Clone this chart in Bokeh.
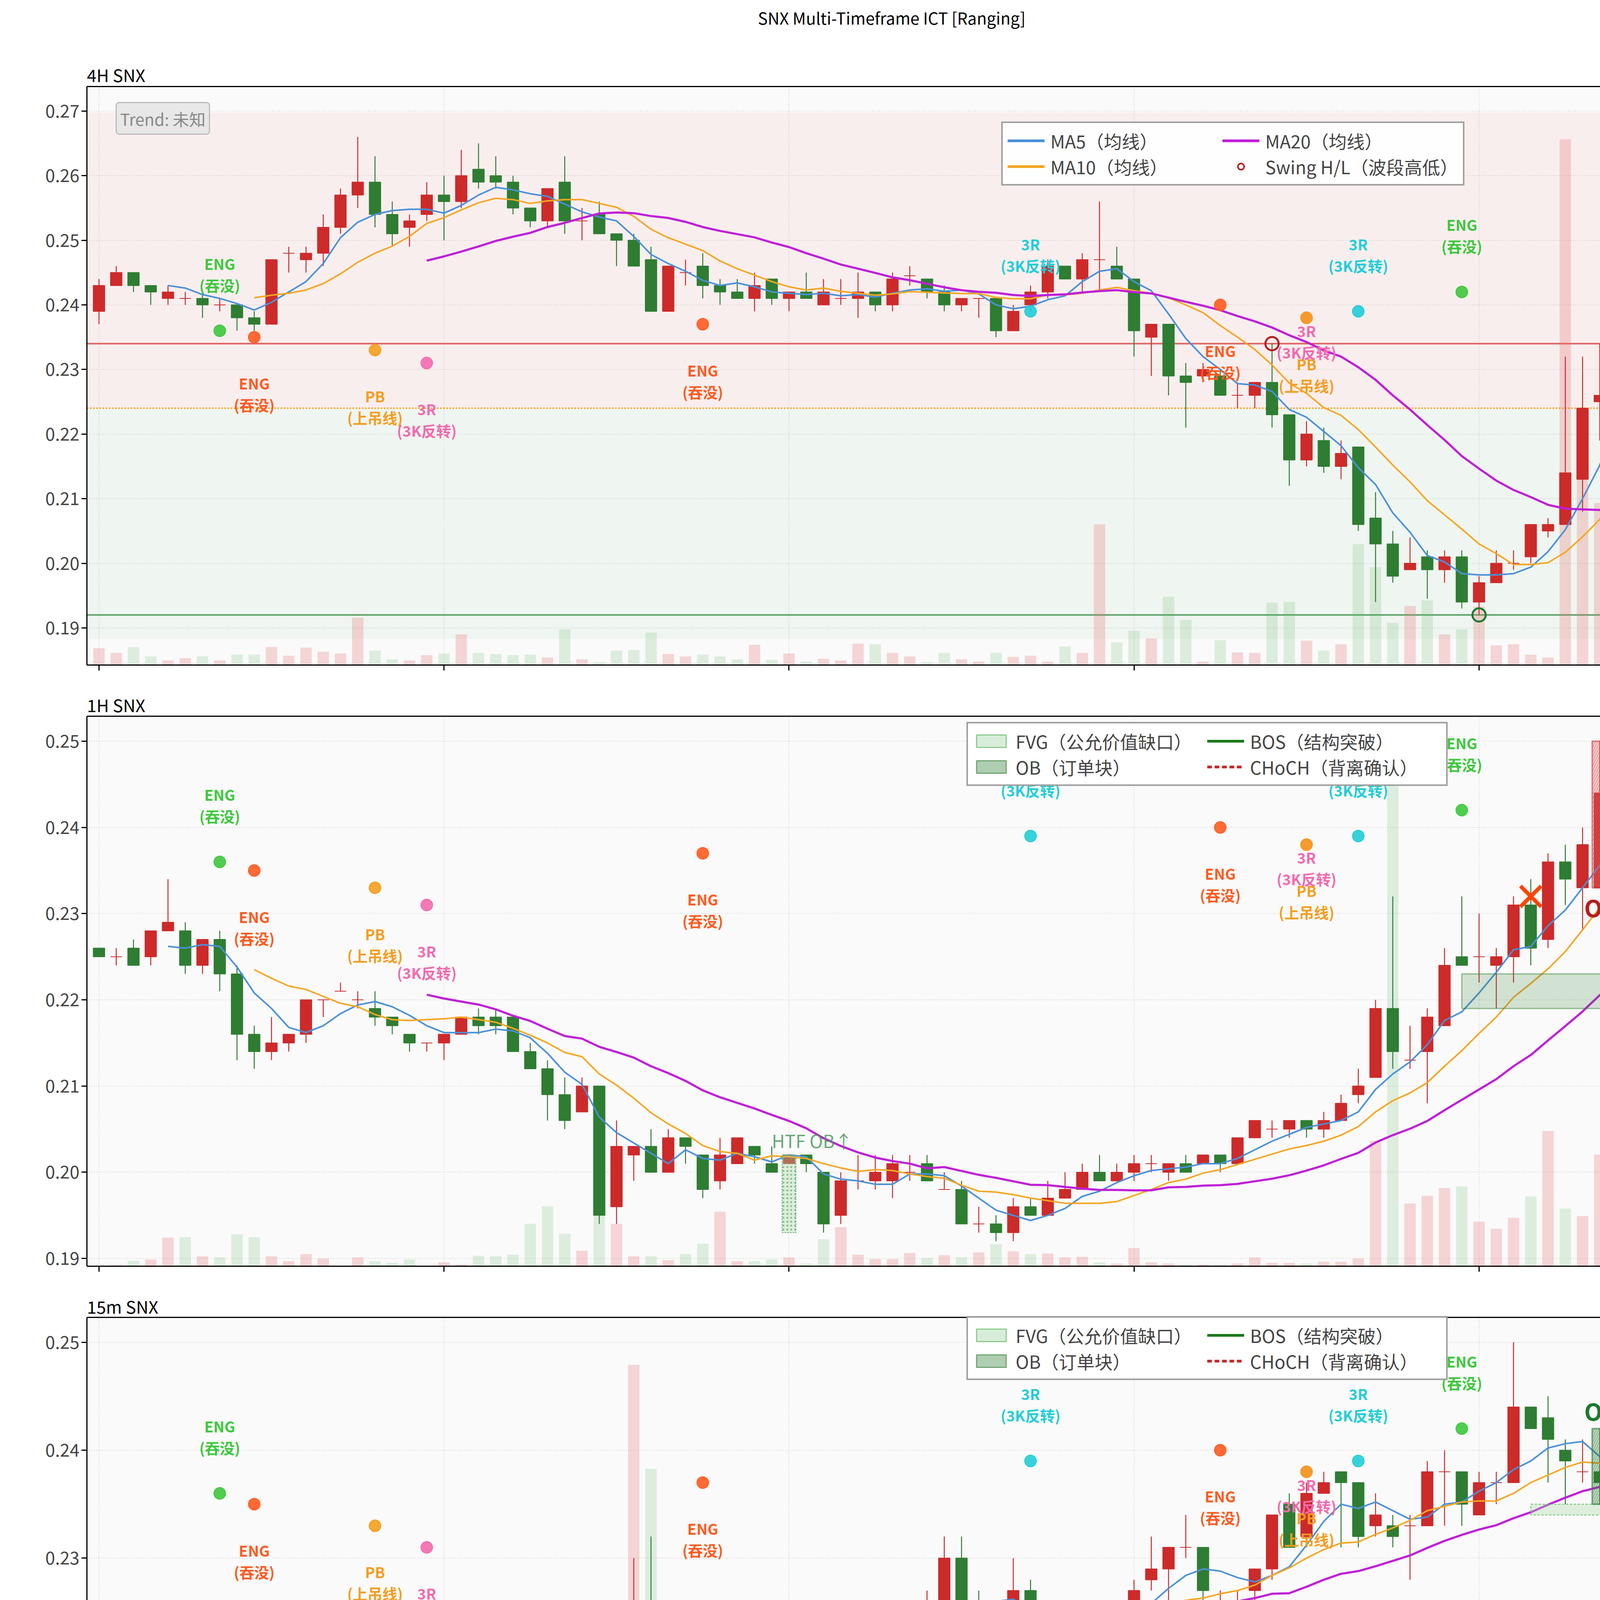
import math
import numpy as np
import pandas as pd
from bokeh.plotting import figure
from bokeh.models import (ColumnDataSource, Range1d, FixedTicker, PrintfTickFormatter,
                          Legend, LegendItem, Label, BoxAnnotation, Span, LinearAxis)
from bokeh.layouts import column
from bokeh.embed import file_html
from bokeh.resources import INLINE
from bokeh.core.properties import value

FONT = "Noto Sans CJK SC"
UP = "#cd2a2a"
DN = "#2e7d32"

# ---------------- DATA ----------------
suptitle_text = "SNX Multi-Timeframe ICT  [Ranging]"
panel_names = ["4H SNX", "1H SNX", "15m SNX", "3m SNX"]
watermark_text = "◈ @凌晨三点还在盯盘"
x_tick_pos = [0, 11, 22, 33, 44, 55, 66, 77, 88]
x_tick_labels = ["06-27 21:03", "06-27 21:36", "06-27 22:09", "06-27 22:42", "06-27 23:15",
                 "06-27 23:48", "06-28 00:21", "06-28 00:54", "06-28 01:27"]

# 4H
h4_open = [.2390,.2430,.2450,.2430,.2410,.2410,.2410,.2400,.2400,.2380,
           .2370,.2480,.2470,.2480,.2520,.2570,.2590,.2540,.2520,.2540,
           .2570,.2560,.2610,.2600,.2590,.2550,.2530,.2590,.2530,.2540,
           .2510,.2500,.2470,.2390,.2450,.2460,.2430,.2420,.2410,.2440,
           .2410,.2420,.2400,.2410,.2410,.2420,.2400,.2445,.2440,.2420,
           .2400,.2410,.2410,.2360,.2400,.2420,.2460,.2440,.2470,.2460,
           .2440,.2350,.2370,.2290,.2290,.2290,.2260,.2260,.2280,.2230,
           .2160,.2190,.2150,.2180,.2070,.2030,.1990,.2010,.1990,.2010,
           .1940,.1970,.2000,.2010,.2050,.2060,.2130,.2250,.2270,.2440]
h4_high = [.2440,.2460,.2450,.2430,.2430,.2420,.2420,.2410,.2400,.2390,
           .2470,.2490,.2490,.2540,.2580,.2660,.2630,.2560,.2540,.2590,
           .2600,.2640,.2650,.2630,.2600,.2550,.2580,.2630,.2550,.2560,
           .2510,.2510,.2490,.2460,.2470,.2480,.2440,.2440,.2450,.2440,
           .2420,.2450,.2440,.2440,.2450,.2420,.2450,.2460,.2440,.2430,
           .2410,.2410,.2410,.2400,.2430,.2470,.2460,.2480,.2560,.2490,
           .2440,.2370,.2370,.2310,.2310,.2300,.2280,.2280,.2340,.2230,
           .2220,.2210,.2190,.2180,.2110,.2050,.2040,.2020,.2020,.2020,
           .1980,.2020,.2020,.2060,.2070,.2320,.2320,.2340,.2500,.2500]
h4_low = [.2370,.2430,.2420,.2400,.2400,.2400,.2380,.2390,.2360,.2360,
          .2370,.2450,.2450,.2460,.2510,.2550,.2520,.2490,.2490,.2530,
          .2500,.2550,.2580,.2580,.2540,.2520,.2520,.2510,.2500,.2510,
          .2460,.2460,.2390,.2390,.2430,.2410,.2400,.2410,.2390,.2400,
          .2390,.2410,.2400,.2400,.2380,.2390,.2390,.2430,.2410,.2390,
          .2390,.2380,.2350,.2360,.2390,.2410,.2440,.2420,.2420,.2440,
          .2320,.2290,.2260,.2210,.2280,.2260,.2240,.2240,.2210,.2120,
          .2150,.2140,.2130,.2050,.1940,.1970,.1990,.1945,.1970,.1930,
          .1920,.1970,.1990,.2000,.2040,.2060,.2080,.2190,.2260,.2350]
h4_close = [.2430,.2450,.2430,.2420,.2420,.2410,.2400,.2400,.2380,.2370,
            .2470,.2480,.2480,.2520,.2570,.2590,.2540,.2510,.2530,.2570,
            .2560,.2600,.2590,.2590,.2550,.2530,.2580,.2530,.2530,.2510,
            .2500,.2460,.2390,.2460,.2450,.2430,.2420,.2410,.2430,.2410,
            .2420,.2410,.2420,.2410,.2420,.2400,.2440,.2445,.2420,.2400,
            .2410,.2410,.2360,.2390,.2420,.2460,.2440,.2470,.2470,.2440,
            .2360,.2370,.2290,.2280,.2300,.2260,.2260,.2280,.2230,.2160,
            .2200,.2150,.2170,.2060,.2030,.1980,.2000,.1990,.2010,.1940,
            .1970,.2000,.2000,.2060,.2060,.2140,.2240,.2260,.2440,.2490]
h4_vol = [2.9,2.1,3.1,1.5,0.8,1.2,1.5,0.8,1.8,1.8,
          3.1,1.6,3.0,2.3,2.0,8.2,2.5,1.0,0.8,1.7,
          2.0,5.3,2.1,1.9,1.7,1.8,1.3,6.2,1.0,0.5,
          2.5,2.6,5.6,1.9,1.5,1.8,1.5,1.0,3.5,0.9,
          2.0,0.6,1.1,0.8,3.7,3.6,2.1,1.5,0.5,2.1,
          1.0,0.6,2.1,1.4,1.6,0.6,3.2,2.1,24.3,3.9,
          5.9,4.6,11.8,7.8,0.6,4.3,2.2,2.1,10.8,10.9,
          4.2,2.5,3.6,20.9,16.9,7.3,10.2,11.2,5.3,6.2,
          10.1,3.4,3.6,1.8,1.3,90.9,35.0,28.0,22.0,17.4]

# 1H
h1_open = [.2260,.2250,.2260,.2250,.2280,.2280,.2240,.2270,.2230,.2160,
           .2140,.2150,.2160,.2200,.2210,.2200,.2190,.2180,.2160,.2150,
           .2150,.2160,.2180,.2180,.2180,.2140,.2120,.2090,.2070,.2100,
           .1960,.2020,.2030,.2000,.2040,.2020,.1990,.2010,.2030,.2010,
           .2010,.2020,.2000,.1950,.1990,.1990,.1990,.2000,.2010,.1980,
           .1980,.1940,.1940,.1930,.1960,.1950,.1970,.1980,.2000,.1990,
           .2000,.2010,.2000,.2010,.2010,.2020,.2010,.2040,.2050,.2050,
           .2060,.2050,.2060,.2090,.2110,.2190,.2130,.2140,.2170,.2250,
           .2250,.2240,.2250,.2310,.2270,.2360,.2330,.2330,.2440,.2380]
h1_high = [.2260,.2260,.2270,.2280,.2340,.2290,.2270,.2280,.2240,.2170,
           .2180,.2160,.2200,.2200,.2220,.2210,.2210,.2180,.2160,.2150,
           .2160,.2180,.2190,.2190,.2180,.2150,.2130,.2110,.2110,.2100,
           .2060,.2030,.2050,.2050,.2040,.2020,.2040,.2040,.2030,.2030,
           .2020,.2020,.2000,.2000,.2020,.2020,.2020,.2020,.2020,.2000,
           .1990,.1960,.1950,.1970,.1970,.1990,.2000,.2010,.2020,.2010,
           .2020,.2020,.2010,.2020,.2020,.2020,.2040,.2060,.2060,.2060,
           .2060,.2070,.2090,.2120,.2200,.2320,.2170,.2190,.2260,.2320,
           .2300,.2260,.2320,.2340,.2370,.2380,.2400,.2500,.2450,.2500]
h1_low = [.2250,.2240,.2240,.2240,.2280,.2230,.2230,.2210,.2130,.2120,
          .2130,.2140,.2150,.2180,.2210,.2190,.2170,.2160,.2140,.2140,
          .2130,.2160,.2160,.2160,.2140,.2120,.2060,.2050,.2070,.1940,
          .1940,.1990,.2000,.2000,.2010,.1970,.1980,.2010,.2010,.2000,
          .2010,.2000,.1930,.1940,.1980,.1980,.1970,.1990,.1990,.1980,
          .1940,.1930,.1920,.1920,.1950,.1950,.1970,.1980,.1990,.1990,
          .1990,.2000,.1990,.2000,.2010,.2000,.2010,.2040,.2040,.2040,
          .2040,.2040,.2060,.2080,.2110,.2120,.2120,.2080,.2170,.2240,
          .2220,.2190,.2220,.2240,.2260,.2310,.2280,.2330,.2350,.2350]
h1_close = [.2250,.2250,.2240,.2280,.2290,.2240,.2270,.2230,.2160,.2140,
            .2150,.2160,.2200,.2200,.2210,.2200,.2180,.2170,.2150,.2150,
            .2160,.2180,.2170,.2170,.2140,.2120,.2090,.2060,.2100,.1950,
            .2030,.2030,.2000,.2040,.2030,.1980,.2020,.2040,.2020,.2000,
            .2020,.2010,.1940,.1990,.1990,.2000,.2010,.2000,.1990,.1980,
            .1940,.1940,.1930,.1960,.1950,.1970,.1980,.2000,.1990,.2000,
            .2010,.2010,.2010,.2000,.2020,.2010,.2040,.2060,.2050,.2060,
            .2050,.2060,.2080,.2100,.2190,.2140,.2130,.2180,.2240,.2240,
            .2250,.2250,.2310,.2260,.2360,.2340,.2380,.2440,.2380,.2490]
h1_vol = [0.1,0.2,1.0,1.2,5.2,5.3,1.8,1.6,5.8,5.3,
          1.8,0.9,2.2,1.4,0.1,1.6,0.9,0.6,1.2,0.1,
          0.7,0.3,1.9,1.8,2.1,7.7,10.9,5.9,2.8,9.1,
          7.7,1.8,1.8,1.1,2.2,4.1,9.9,0.9,0.9,1.2,
          1.6,0.5,4.9,7.1,2.1,1.3,1.3,2.4,1.5,2.0,
          1.6,2.5,4.0,2.7,2.2,2.3,1.6,1.7,0.7,0.5,
          3.3,0.7,0.5,0.3,0.3,0.3,0.5,1.6,0.6,0.6,
          0.5,0.8,0.8,1.4,22.8,89.9,11.4,12.8,14.2,14.5,
          8.1,6.8,8.8,12.7,24.6,10.5,9.1,20.3,13.6,8.4]

# 15m
m15_open = [.2030,.2050,.2050,.2050,.2060,.2050,.2050,.2040,.2050,.2040,
            .2035,.2060,.2035,.2050,.2060,.2050,.2035,.2060,.2060,.2060,
            .2070,.2070,.2080,.2090,.2090,.2110,.2100,.2110,.2130,.2140,
            .2160,.2190,.2260,.2220,.2170,.2130,.2160,.2140,.2140,.2140,
            .2100,.2100,.2130,.2170,.2200,.2240,.2220,.2250,.2240,.2260,
            .2300,.2250,.2240,.2250,.2270,.2240,.2230,.2230,.2240,.2250,
            .2240,.2280,.2290,.2310,.2310,.2260,.2250,.2270,.2290,.2350,
            .2320,.2360,.2380,.2370,.2330,.2330,.2330,.2330,.2380,.2380,
            .2340,.2370,.2370,.2440,.2430,.2400,.2380,.2380,.2370,.2460]
m15_high = [.2060,.2060,.2060,.2060,.2060,.2050,.2050,.2040,.2050,.2040,
            .2060,.2060,.2060,.2060,.2060,.2050,.2060,.2070,.2060,.2070,
            .2070,.2080,.2090,.2100,.2110,.2120,.2110,.2130,.2140,.2170,
            .2200,.2300,.2320,.2240,.2200,.2170,.2160,.2160,.2140,.2140,
            .2100,.2140,.2190,.2220,.2250,.2260,.2250,.2260,.2270,.2320,
            .2320,.2270,.2260,.2300,.2280,.2260,.2250,.2250,.2250,.2250,
            .2280,.2320,.2310,.2340,.2310,.2270,.2270,.2290,.2340,.2360,
            .2370,.2380,.2380,.2370,.2360,.2340,.2340,.2390,.2400,.2380,
            .2380,.2380,.2500,.2440,.2450,.2410,.2410,.2420,.2470,.2500]
m15_low = [.2025,.2050,.2050,.2050,.2050,.2050,.2040,.2030,.2035,.2030,
           .2035,.2030,.2035,.2050,.2045,.2035,.2035,.2060,.2060,.2060,
           .2060,.2070,.2080,.2080,.2090,.2100,.2100,.2110,.2120,.2120,
           .2160,.2170,.2200,.2140,.2120,.2120,.2120,.2130,.2120,.2090,
           .2080,.2080,.2130,.2170,.2180,.2220,.2200,.2230,.2230,.2240,
           .2240,.2230,.2220,.2240,.2230,.2190,.2220,.2220,.2230,.2220,
           .2240,.2270,.2260,.2300,.2240,.2240,.2240,.2260,.2280,.2310,
           .2310,.2360,.2310,.2310,.2320,.2310,.2280,.2330,.2330,.2330,
           .2340,.2350,.2370,.2420,.2370,.2350,.2370,.2350,.2360,.2460]
m15_close = [.2060,.2060,.2060,.2050,.2050,.2050,.2050,.2035,.2040,.2035,
             .2060,.2035,.2060,.2060,.2050,.2040,.2060,.2060,.2060,.2060,
             .2060,.2080,.2080,.2090,.2110,.2100,.2100,.2120,.2140,.2160,
             .2190,.2260,.2230,.2170,.2140,.2170,.2140,.2140,.2130,.2100,
             .2090,.2120,.2180,.2210,.2240,.2230,.2240,.2230,.2260,.2300,
             .2240,.2240,.2260,.2270,.2250,.2220,.2230,.2240,.2250,.2240,
             .2270,.2290,.2310,.2310,.2270,.2260,.2260,.2290,.2340,.2310,
             .2360,.2370,.2370,.2320,.2340,.2320,.2330,.2380,.2380,.2350,
             .2370,.2370,.2440,.2420,.2410,.2390,.2380,.2370,.2460,.2490]
m15_vol = [0.4,0.3,0.9,0.3,0.2,0.2,0.2,0.2,0.2,0.3,
           0.5,0.3,0.8,0.4,0.4,0.4,0.3,1.3,0.3,0.3,
           0.4,0.8,0.5,0.7,1.0,1.0,0.8,1.0,1.3,13.6,
           33.8,90.9,71.0,26.0,14.2,15.1,6.5,0.8,3.1,10.2,
           5.5,8.5,4.2,9.9,4.2,11.7,5.7,2.9,3.1,14.9,
           11.4,3.9,3.1,8.0,2.9,8.8,2.0,2.2,2.0,2.0,
           4.6,8.7,4.4,7.4,10.4,6.3,4.3,2.2,28.7,15.5,
           8.4,4.6,3.7,3.7,11.3,2.9,7.0,4.9,5.5,4.8,
           3.8,5.9,30.7,11.2,9.4,7.2,2.6,3.3,10.6,5.0]

# 3m
m3_open = [.235,.236,.235,.237,.238,.236,.236,.234,.236,.237,
           .235,.232,.232,.232,.233,.235,.234,.233,.234,.233,
           .231,.231,.233,.233,.232,.233,.229,.231,.232,.233,
           .235,.236,.237,.237,.238,.239,.237,.236,.237,.238,
           .237,.236,.237,.237,.234,.236,.235,.236,.236,.237,
           .236,.236,.238,.237,.237,.239,.245,.246,.245,.244,
           .240,.241,.241,.241,.243,.244,.240,.238,.240,.241,
           .239,.238,.237,.237,.238,.238,.238,.240,.240,.238,
           .242,.240,.238,.238,.237,.238,.239,.240,.242,.246]
m3_high = [.235,.236,.237,.238,.238,.237,.237,.236,.237,.237,
           .235,.232,.232,.232,.235,.235,.236,.235,.235,.235,
           .232,.232,.234,.233,.234,.234,.231,.231,.233,.235,
           .235,.239,.237,.239,.239,.240,.238,.237,.239,.238,
           .237,.237,.237,.237,.235,.236,.236,.237,.238,.237,
           .237,.237,.238,.237,.240,.246,.250,.246,.246,.244,
           .242,.242,.242,.243,.245,.245,.241,.240,.242,.241,
           .240,.240,.237,.239,.239,.239,.240,.241,.240,.242,
           .242,.240,.239,.238,.238,.238,.240,.242,.247,.250]
m3_low = [.234,.234,.234,.236,.2355,.235,.234,.234,.236,.235,
          .232,.231,.231,.231,.232,.232,.232,.233,.233,.231,
          .231,.231,.233,.232,.230,.228,.229,.231,.232,.233,
          .235,.235,.236,.237,.238,.236,.235,.236,.237,.237,
          .236,.236,.236,.233,.234,.234,.235,.236,.235,.235,
          .235,.236,.237,.237,.237,.239,.243,.243,.243,.239,
          .239,.240,.240,.240,.242,.240,.238,.238,.240,.240,
          .236,.237,.236,.236,.238,.238,.238,.238,.238,.238,
          .240,.238,.237,.235,.237,.236,.239,.240,.240,.245]
m3_close = [.235,.234,.237,.237,.236,.236,.235,.236,.237,.235,
            .232,.232,.232,.232,.235,.233,.233,.234,.234,.231,
            .232,.232,.234,.232,.233,.229,.231,.231,.233,.235,
            .235,.238,.237,.238,.239,.237,.236,.237,.238,.237,
            .236,.237,.236,.235,.235,.235,.236,.237,.237,.236,
            .236,.237,.237,.237,.239,.245,.247,.245,.244,.239,
            .242,.241,.241,.241,.244,.240,.238,.240,.241,.241,
            .238,.237,.237,.239,.239,.239,.240,.238,.238,.242,
            .240,.238,.237,.237,.238,.237,.239,.242,.246,.248]
m3_vol = [3.5,4.4,17.3,7.2,10.1,4.4,8.1,3.0,2.5,4.5,
          7.8,2.6,8.5,5.8,11.8,3.0,65.8,0.3,0.3,1.0,
          0.5,1.3,6.7,3.0,9.8,5.1,1.9,9.7,11.8,2.2,
          2.3,15.7,8.2,0.2,9.7,10.8,19.3,0.5,2.9,3.8,
          4.9,1.7,6.0,20.0,16.9,2.6,5.3,0.7,4.1,25.1,
          5.2,4.6,7.7,3.5,4.0,89.0,91.0,32.5,21.6,44.5,
          13.2,8.1,4.6,16.1,21.4,15.8,18.7,14.3,2.5,17.1,
          16.3,4.1,9.6,8.5,0.8,4.9,6.1,3.1,6.0,6.7,
          7.1,4.8,3.8,2.7,4.5,9.3,4.2,5.6,58.3,38.3]

# pattern signals (shared by all panels)
sig_x = [7, 9, 16, 19, 35, 54, 65, 70, 70, 73, 79]
sig_y = [0.236, 0.235, 0.233, 0.231, 0.237, 0.239, 0.240, 0.238, 0.238, 0.239, 0.242]
sig_kind = ["ENG+", "ENG-", "PB", "3R-", "ENG-", "3R+", "ENG-", "3R-", "PB", "3R+", "ENG+"]
sig_text = {"ENG+": "ENG\n(吞没)", "ENG-": "ENG\n(吞没)", "PB": "PB\n(上吊线)",
            "3R-": "3R\n(3K反转)", "3R+": "3R\n(3K反转)"}

# 4H structure
range_high, eq_level, range_low = 0.2698, 0.224, 0.1883
swing_high, swing_low = 0.234, 0.192
swing_x = [68, 80]
swing_y = [0.234, 0.192]
trend_text = "Trend: 未知"

# 1H structure
h1_htf_ob = dict(left=39.6, right=40.4, bottom=0.193, top=0.202)
h1_bull_ob = dict(left=79.0, right=89.65, bottom=0.219, top=0.223)
h1_fvg = dict(left=88.0, right=89.4, bottom=0.234, top=0.2349)
h1_bear_ob = dict(left=86.56, right=87.44, bottom=0.233, top=0.250)
h1_choch_x, h1_choch_y = 83, 0.232

# 15m structure
m15_bull_ob = dict(left=86.56, right=87.44, bottom=0.235, top=0.242)
m15_small = dict(left=88.9, right=89.4, bottom=0.242, top=0.245)
m15_fvg = dict(left=83.0, right=89.4, bottom=0.234, top=0.235)

# 3m structure
eqh_level, eql_level = 0.242, 0.239
entry_x, entry_y = 80, 0.242
disp_x, disp_y = 79, 0.2418
m3_fvg = dict(left=59.0, right=89.65, bottom=0.234, top=0.235)

# ---------------- LAYOUT ----------------
W = 4233
XL, XR = -0.7, 89.65
SIG_COL = {"ENG+": "#3cc83c", "ENG-": "#ff5a1f", "PB": "#f59d1e", "3R-": "#f26aae", "3R+": "#1fcdd8"}
TICK_FS = "45px"
LEG_FS = "46px"
MA_COL = ["#4a90d9", "#f5a623", "#bf1fd8"]


def base_fig(F, T, B, bot_b, ylo, yhi, yticks, fmt, name, name_y):
    """F: page y of figure top, T: plot-area top, B: plot-area bottom (page px)."""
    H = B - F
    ext = yhi + (T - F) * (yhi - ylo) / (B - T)
    p = figure(width=W, height=H + bot_b, x_range=Range1d(XL, XR), y_range=Range1d(ylo, ext),
               output_backend="svg", toolbar_location=None,
               min_border_left=222, min_border_right=21, min_border_top=0,
               min_border_bottom=bot_b, background_fill_color="#fafafa",
               border_fill_color="white")
    p.extra_y_ranges = {"vol": Range1d(0, 100.0 * (B - F) / (B - T))}
    p.outline_line_color = None
    p.add_layout(BoxAnnotation(bottom=yhi, fill_color="white", fill_alpha=1.0,
                               line_color=None, level="underlay"))
    p.yaxis.ticker = FixedTicker(ticks=yticks)
    p.yaxis.formatter = PrintfTickFormatter(format=fmt)
    p.yaxis.bounds = (ylo, yhi)
    for ax in (p.xaxis[0], p.yaxis[0]):
        ax.major_label_text_font = FONT
        ax.major_label_text_font_size = TICK_FS
        ax.major_tick_out = 14
        ax.major_tick_in = 0
        ax.major_tick_line_width = 3
        ax.minor_tick_line_color = None
        ax.axis_line_width = 3
        ax.axis_line_color = "black"
    right = LinearAxis(ticker=FixedTicker(ticks=[]), bounds=(ylo, yhi), axis_line_width=3,
                       axis_line_color="black", major_tick_line_color=None,
                       minor_tick_line_color=None)
    p.add_layout(right, "right")
    p.add_layout(Span(location=yhi, dimension="width", line_color="black", line_width=3))
    p.grid.grid_line_color = "#c8c8c8"
    p.grid.grid_line_dash = "dotted"
    p.grid.grid_line_width = 2
    p.grid.grid_line_alpha = 0.8
    p.add_layout(Label(x=0, y=B - name_y, x_units="screen", y_units="screen", text=name,
                       text_font=FONT, text_font_size="44px", text_baseline="middle",
                       text_align="left", text_color="black"))
    return p


def hide_xlabels(p):
    p.xaxis.ticker = FixedTicker(ticks=[0, 20, 40, 60, 80])
    p.xaxis.major_label_text_font_size = "1px"
    p.xaxis.major_label_text_color = None


def draw_candles(p, o, h, l, c, v):
    n = len(o)
    idx = np.arange(n)
    up = [c[i] >= o[i] for i in range(n)]
    src = ColumnDataSource(dict(
        x=idx, h=h, l=l, v=v,
        top=[max(a, b) for a, b in zip(o, c)], bot=[min(a, b) for a, b in zip(o, c)],
        col=[UP if u else DN for u in up],
        vcol=["#e57373" if u else "#66bb6a" for u in up],
        valpha=[0.28 if u else 0.2 for u in up]))
    p.vbar(x="x", top="v", bottom=0, width=0.66, y_range_name="vol", fill_color="vcol",
           fill_alpha="valpha", line_color=None, source=src)
    p.segment(x0="x", y0="l", x1="x", y1="h", line_color="col", line_width=2.5, source=src)
    p.vbar(x="x", top="top", bottom="bot", width=0.66, fill_color="col", line_color="col",
           line_width=2, source=src)


def draw_ma(p, c):
    s = pd.Series(c)
    idx = np.arange(len(c))
    p.line(idx, s.rolling(5).mean().values, line_color=MA_COL[0], line_width=4)
    p.line(idx, s.rolling(10).mean().values, line_color=MA_COL[1], line_width=4)
    p.line(idx, s.rolling(20).mean().values, line_color=MA_COL[2], line_width=5.5)


def draw_signals(p):
    dy = {"ENG+": -145, "3R+": -145, "ENG-": 145, "PB": 145, "3R-": 145}
    offs = []
    for i, k in enumerate(sig_kind):
        d = dy[k]
        if k == "3R-" and sig_x[i] == 70:
            d = 60
        offs.append(d)
    src = ColumnDataSource(dict(x=sig_x, y=sig_y, col=[SIG_COL[k] for k in sig_kind],
                                t=[sig_text[k] for k in sig_kind], dy=offs))
    p.scatter(x="x", y="y", size=30, marker="circle", fill_color="col", fill_alpha=0.9,
              line_color="col", line_width=2, source=src)
    p.text(x="x", y="y", text="t", y_offset="dy", text_color="col", text_align="center",
           text_baseline="middle", text_font=value(FONT), text_font_size=value("38px"),
           text_font_style="bold", text_line_height=1.0, source=src)


def proxy_line(p, **kw):
    # legend-only proxy placed outside the visible x range
    return p.line(x=[XL - 20, XL - 19], y=[0, 0], **kw)


def proxy_box(p, **kw):
    return p.quad(left=[XL - 20], right=[XL - 19], bottom=[0], top=[0.001], **kw)


def make_legend(items, loc, label_width):
    return Legend(items=items, location=loc, ncols=2, label_text_font=FONT,
                  label_text_font_size=LEG_FS, glyph_width=95, glyph_height=40,
                  spacing=0, padding=12, margin=0, label_standoff=15,
                  label_width=label_width, border_line_color="#444444",
                  border_line_width=4, background_fill_color="white",
                  background_fill_alpha=0.92)


# ---------------- PANEL 1 (4H) ----------------
p1 = base_fig(8, 229, 1710, 40, 0.18425, 0.2738,
              [0.19, 0.20, 0.21, 0.22, 0.23, 0.24, 0.25, 0.26, 0.27], "%.2f",
              panel_names[0], 198)
p1.add_layout(Label(x=2065, y=1710 - 52, x_units="screen", y_units="screen",
                    text=suptitle_text, text_font=FONT, text_font_size="42px",
                    text_baseline="middle", text_align="center", text_color="black"))
p1.add_layout(BoxAnnotation(bottom=eq_level, top=range_high, fill_color="#ef5350",
                            fill_alpha=0.07, line_color=None, level="underlay"))
p1.add_layout(BoxAnnotation(bottom=range_low, top=eq_level, fill_color="#4caf50",
                            fill_alpha=0.06, line_color=None, level="underlay"))
p1.add_layout(Span(location=swing_high, dimension="width", line_color="#d9534f",
                   line_width=4, line_alpha=0.9, level="underlay"))
p1.add_layout(Span(location=eq_level, dimension="width", line_color="#f5a623",
                   line_width=4, line_dash="4 4", level="underlay"))
p1.add_layout(Span(location=swing_low, dimension="width", line_color="#4c9a5c",
                   line_width=4, line_alpha=0.9, level="underlay"))
draw_candles(p1, h4_open, h4_high, h4_low, h4_close, h4_vol)
draw_ma(p1, h4_close)
draw_signals(p1)
p1.scatter(x=swing_x[:1], y=swing_y[:1], marker="circle", size=34, fill_color=None,
           line_color="#b71c1c", line_width=5)
p1.scatter(x=swing_x[1:], y=swing_y[1:], marker="circle", size=34, fill_color=None,
           line_color="#1b7a2b", line_width=5)
p1.add_layout(Label(x=75, y=1710 - 270, x_units="screen", y_units="screen", text=trend_text,
                    text_font=FONT, text_font_size="42px", text_color="#888888",
                    text_baseline="top", background_fill_color="#e6e6e6",
                    background_fill_alpha=0.9, border_line_color="#bbbbbb",
                    border_line_width=3, padding=10, border_radius=8))
hide_xlabels(p1)
l5 = proxy_line(p1, line_color=MA_COL[0], line_width=7)
l10 = proxy_line(p1, line_color=MA_COL[1], line_width=7)
l20 = proxy_line(p1, line_color=MA_COL[2], line_width=7)
lsw = p1.scatter(x=[XL - 20], y=[0], marker="circle", size=34, fill_color=None,
                 line_color="#b71c1c", line_width=4)
p1.add_layout(make_legend([
    LegendItem(label="MA5（均线）", renderers=[l5]),
    LegendItem(label="MA10（均线）", renderers=[l10]),
    LegendItem(label="MA20（均线）", renderers=[l20]),
    LegendItem(label="Swing H/L（波段高低）", renderers=[lsw]),
], (2341, 1227), 440))


# ---------------- PANEL 2 (1H) ----------------
def struct_legend_items(p):
    f = proxy_box(p, fill_color="#4caf50", fill_alpha=0.22, line_color="#4caf50",
                  line_alpha=0.6, line_width=3)
    o = proxy_box(p, fill_color="#2e7d32", fill_alpha=0.38, line_color="#2e7d32",
                  line_alpha=0.6, line_width=3)
    b = proxy_line(p, line_color="#1b7a1b", line_width=7)
    ch = proxy_line(p, line_color="#c62828", line_width=7, line_dash="12 7")
    return [LegendItem(label="FVG（公允价值缺口）", renderers=[f]),
            LegendItem(label="OB（订单块）", renderers=[o]),
            LegendItem(label="BOS（结构突破）", renderers=[b]),
            LegendItem(label="CHoCH（背离确认）", renderers=[ch])]


p2 = base_fig(1750, 1841, 3249, 40, 0.1891, 0.2529,
              [0.19, 0.20, 0.21, 0.22, 0.23, 0.24, 0.25], "%.2f", panel_names[1], 1811)
hide_xlabels(p2)
draw_candles(p2, h1_open, h1_high, h1_low, h1_close, h1_vol)
draw_ma(p2, h1_close)
p2.quad(**{k: [v] for k, v in h1_htf_ob.items()}, fill_color="#a5d6a7", fill_alpha=0.35,
        hatch_pattern=".", hatch_color="#5fa865", hatch_alpha=0.7, hatch_scale=10,
        line_color="#5fa865", line_dash="4 3", line_width=2)
p2.text(x=[39.0], y=[0.2037], text=["HTF OB↑"], text_color="#4c9a5c", text_alpha=0.85,
        text_align="left", text_baseline="middle", text_font=value(FONT),
        text_font_size=value("46px"))
p2.quad(**{k: [v] for k, v in h1_bull_ob.items()}, fill_color="#2e7d32", fill_alpha=0.2,
        line_color="#2e7d32", line_alpha=0.5, line_width=3)
p2.quad(**{k: [v] for k, v in h1_fvg.items()}, fill_color="#a5d6a7", fill_alpha=0.4,
        line_color="#66bb6a", line_dash="6 4", line_width=2)
p2.quad(**{k: [v] for k, v in h1_bear_ob.items()}, fill_color="#e57373", fill_alpha=0.35,
        hatch_pattern="/", hatch_color="#b71c1c", hatch_alpha=0.6, hatch_scale=12,
        line_color="#c62828", line_alpha=0.5, line_width=4)
p2.scatter(x=[h1_choch_x], y=[h1_choch_y], marker="x", size=75, line_color="#ff4500",
           line_width=10)
p2.text(x=[86.1], y=[0.2308], text=["OB↓"], text_color="#b71c1c", text_align="left",
        text_baseline="middle", text_font=value(FONT), text_font_size=value("60px"),
        text_font_style="bold")
draw_signals(p2)
p2.add_layout(make_legend(struct_legend_items(p2), (2252, 1229), 490))

# ---------------- PANEL 3 (15m) ----------------
p3 = base_fig(3289, 3380, 4715, 40, 0.2040, 0.2523,
              [0.21, 0.22, 0.23, 0.24, 0.25], "%.2f", panel_names[2], 3351)
hide_xlabels(p3)
draw_candles(p3, m15_open, m15_high, m15_low, m15_close, m15_vol)
draw_ma(p3, m15_close)
p3.quad(**{k: [v] for k, v in m15_fvg.items()}, fill_color="#a5d6a7", fill_alpha=0.35,
        line_color="#66bb6a", line_dash="6 4", line_width=2)
p3.quad(**{k: [v] for k, v in m15_bull_ob.items()}, fill_color="#2e7d32", fill_alpha=0.3,
        hatch_pattern="/", hatch_color="#1b5e20", hatch_alpha=0.6, hatch_scale=12,
        line_color="#2e7d32", line_alpha=0.6, line_width=4)
p3.quad(**{k: [v] for k, v in m15_small.items()}, fill_color="#a5d6a7", fill_alpha=0.5,
        line_color="#4caf50", line_width=3)
p3.text(x=[86.1], y=[0.2437], text=["OB↑"], text_color="#1b7a2b", text_align="left",
        text_baseline="middle", text_font=value(FONT), text_font_size=value("60px"),
        text_font_style="bold")
draw_signals(p3)
p3.add_layout(make_legend(struct_legend_items(p3), (2252, 1174), 490))

# ---------------- PANEL 4 (3m) ----------------
p4 = base_fig(4755, 4846, 6107, 247, 0.22691, 0.25112,
              [0.230, 0.235, 0.240, 0.245, 0.250], "%.3f", panel_names[3], 4817)
p4.xaxis.ticker = FixedTicker(ticks=x_tick_pos)
p4.xaxis.major_label_overrides = {t: s for t, s in zip(x_tick_pos, x_tick_labels)}
p4.xaxis.major_label_orientation = math.pi / 6
p4.xaxis.major_label_text_font_size = "40px"
p4.xaxis.major_label_standoff = 4
p4.xaxis.axis_label = "Date"
p4.xaxis.axis_label_text_font = FONT
p4.xaxis.axis_label_text_font_size = "36px"
p4.xaxis.axis_label_text_font_style = "normal"
p4.xaxis.axis_label_standoff = 6
p4.add_layout(Label(x=3990, y=-(6355 - 6107), x_units="screen", y_units="screen",
                    text=watermark_text, text_font=FONT, text_font_size="28px",
                    text_align="right", text_baseline="middle", text_color="#cfcfcf"))
p4.quad(**{k: [v] for k, v in m3_fvg.items()}, fill_color="#a5d6a7", fill_alpha=0.3,
        line_color="#66bb6a", line_dash="6 4", line_width=2)
p4.add_layout(Span(location=eqh_level, dimension="width", line_color="#d64545",
                   line_width=5, line_dash="12 7", level="underlay"))
p4.add_layout(Span(location=eql_level, dimension="width", line_color="#2e8b3e",
                   line_width=5, line_dash="12 7", level="underlay"))
p4.text(x=[88.7], y=[eqh_level], text=["EQH"], y_offset=-6, text_color="#c62828",
        text_align="right", text_baseline="bottom", text_font=value(FONT),
        text_font_size=value("40px"))
p4.text(x=[88.7], y=[eql_level], text=["EQL"], y_offset=6, text_color="#2e8b3e",
        text_align="right", text_baseline="top", text_font=value(FONT),
        text_font_size=value("40px"))
draw_candles(p4, m3_open, m3_high, m3_low, m3_close, m3_vol)
draw_ma(p4, m3_close)
draw_signals(p4)
disp = p4.scatter(x=[disp_x], y=[disp_y], marker="triangle", size=24, fill_color="#ff9800",
                  line_color="#4e342e", line_width=2)
p4.scatter(x=[entry_x], y=[entry_y], marker="circle", size=34, fill_color=None,
           line_color="#b71c1c", line_width=5)
p4.text(x=[entry_x], y=[entry_y], text=["Entry Ref"], y_offset=-36, text_color="#c62828",
        text_align="center", text_baseline="middle", text_font=value(FONT),
        text_font_size=value("38px"))
eqh_r = proxy_line(p4, line_color="#9c27b0", line_width=6, line_dash="12 7")
eql_r = proxy_line(p4, line_color="#2e7d32", line_width=6, line_dash="12 7")
p4.add_layout(make_legend([
    LegendItem(label="EQH（等值高点）", renderers=[eqh_r]),
    LegendItem(label="EQL（等值低点）", renderers=[eql_r]),
    LegendItem(label="Displacement（位移）", renderers=[disp]),
], (2294, 1180), 474))

layout = column(p1, p2, p3, p4)
open("out.html", "w").write(file_html(layout, INLINE))
